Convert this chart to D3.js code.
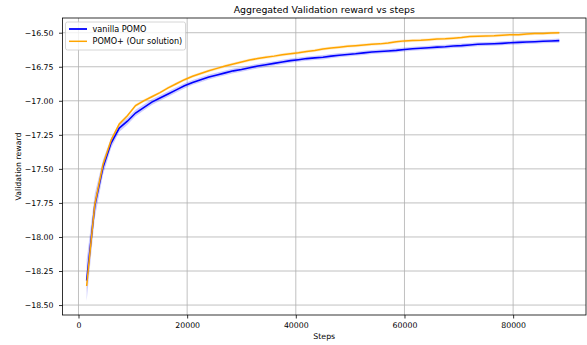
<!DOCTYPE html>
<html>
<head>
<meta charset="utf-8">
<script src="https://cdn.jsdelivr.net/npm/d3@7"></script>
<style>
  html, body { margin: 0; padding: 0; background: #fff; }
  svg { display: block; font-family: "DejaVu Sans", sans-serif; }
</style>
</head>
<body>
<div id="chart"></div>
<script>
// evaluation steps
const steps = [
  1500, 3000, 4500, 6000, 7500, 9000, 10500, 12000, 13500, 15000,
  16500, 18000, 19500, 21000, 22500, 24000, 25500, 27000, 28500, 30000,
  31500, 33000, 34500, 36000, 37500, 39000, 40500, 42000, 43500, 45000,
  46500, 48000, 49500, 51000, 52500, 54000, 55500, 57000, 58500, 60000,
  61500, 63000, 64500, 66000, 67500, 69000, 70500, 72000, 73500, 75000,
  76500, 78000, 79500, 81000, 82500, 84000, 85500, 87000, 88500
];

const vanillaMean = [
  -18.32, -17.77, -17.49, -17.31, -17.20, -17.15, -17.09, -17.05, -17.01, -16.98,
  -16.95, -16.92, -16.89, -16.865, -16.845, -16.825, -16.81, -16.795, -16.78, -16.77,
  -16.757, -16.745, -16.735, -16.725, -16.715, -16.705, -16.698, -16.69, -16.685, -16.68,
  -16.672, -16.665, -16.66, -16.655, -16.648, -16.642, -16.638, -16.634, -16.63, -16.623,
  -16.618, -16.614, -16.61, -16.606, -16.603, -16.598, -16.595, -16.59, -16.585, -16.583,
  -16.581, -16.578, -16.574, -16.571, -16.568, -16.566, -16.563, -16.561, -16.558
];

const vanillaSpread = [
  0.15, 0.09, 0.055, 0.038, 0.03, 0.026, 0.024, 0.022, 0.021, 0.02,
  0.02, 0.019, 0.019, 0.018, 0.018, 0.018, 0.018, 0.017, 0.017, 0.017,
  0.017, 0.017, 0.016, 0.016, 0.016, 0.016, 0.016, 0.016, 0.016, 0.016,
  0.016, 0.016, 0.015, 0.015, 0.015, 0.015, 0.015, 0.015, 0.015, 0.015,
  0.015, 0.015, 0.015, 0.015, 0.015, 0.015, 0.015, 0.015, 0.015, 0.015,
  0.015, 0.015, 0.015, 0.015, 0.015, 0.015, 0.015, 0.015, 0.015
];

const pomoPlusMean = [
  -18.36, -17.76, -17.47, -17.29, -17.17, -17.11, -17.035, -17.00, -16.97, -16.94,
  -16.905, -16.875, -16.845, -16.82, -16.80, -16.78, -16.762, -16.745, -16.73, -16.715,
  -16.70, -16.69, -16.68, -16.672, -16.662, -16.655, -16.648, -16.638, -16.63, -16.62,
  -16.612, -16.606, -16.60, -16.595, -16.59, -16.585, -16.582, -16.575, -16.566, -16.56,
  -16.558, -16.556, -16.552, -16.547, -16.545, -16.54, -16.535, -16.528, -16.526, -16.525,
  -16.523, -16.518, -16.515, -16.515, -16.51, -16.506, -16.505, -16.503, -16.501
];

const pomoPlusSpread = [
  0.05, 0.03, 0.02, 0.015, 0.013, 0.012, 0.012, 0.011, 0.011, 0.011,
  0.011, 0.011, 0.011, 0.011, 0.011, 0.011, 0.011, 0.011, 0.011, 0.011,
  0.011, 0.011, 0.011, 0.011, 0.011, 0.011, 0.011, 0.011, 0.011, 0.011,
  0.011, 0.011, 0.011, 0.011, 0.011, 0.011, 0.011, 0.011, 0.011, 0.011,
  0.011, 0.011, 0.011, 0.011, 0.011, 0.011, 0.011, 0.011, 0.011, 0.011,
  0.011, 0.011, 0.011, 0.011, 0.011, 0.011, 0.011, 0.011, 0.011
];

const xTicks = [0, 20000, 40000, 60000, 80000];
const yTicks = [-16.5, -16.75, -17.0, -17.25, -17.5, -17.75, -18.0, -18.25, -18.5];

const seriesNames = ['vanilla POMO', 'POMO+ (Our solution)'];

const width = 587;
const height = 345;
const plot = { left: 62.5, right: 586, top: 18, bottom: 315 };
const fontSize = 7.8;

const svg = d3.select('#chart')
  .append('svg')
  .attr('width', width)
  .attr('height', height);

const x = d3.scaleLinear()
  .domain([-2944, 93413])
  .range([plot.left, plot.right]);

const y = d3.scaleLinear()
  .domain([-18.573, -16.392])
  .range([plot.bottom, plot.top]);

const fmtY = v => d3.format('.2f')(v).replace('-', '\u2212');

// grid
svg.append('g')
  .selectAll('line')
  .data(xTicks)
  .enter()
  .append('line')
  .attr('x1', d => x(d)).attr('x2', d => x(d))
  .attr('y1', plot.top).attr('y2', plot.bottom)
  .attr('stroke', '#b0b0b0')
  .attr('stroke-width', 0.8);

svg.append('g')
  .selectAll('line')
  .data(yTicks)
  .enter()
  .append('line')
  .attr('x1', plot.left).attr('x2', plot.right)
  .attr('y1', d => y(d)).attr('y2', d => y(d))
  .attr('stroke', '#b0b0b0')
  .attr('stroke-width', 0.8);

// series
const vanilla = steps.map((s, i) => ({ s, m: vanillaMean[i], sd: vanillaSpread[i] }));
const pomoPlus = steps.map((s, i) => ({ s, m: pomoPlusMean[i], sd: pomoPlusSpread[i] }));

const area = d3.area()
  .x(d => x(d.s))
  .y0(d => y(d.m - d.sd))
  .y1(d => y(d.m + d.sd));

const line = d3.line()
  .x(d => x(d.s))
  .y(d => y(d.m));

svg.append('path')
  .datum(vanilla)
  .attr('d', area)
  .attr('fill', 'blue')
  .attr('fill-opacity', 0.2);

svg.append('path')
  .datum(pomoPlus)
  .attr('d', area)
  .attr('fill', 'orange')
  .attr('fill-opacity', 0.2);

svg.append('path')
  .datum(vanilla)
  .attr('d', line)
  .attr('fill', 'none')
  .attr('stroke', 'blue')
  .attr('stroke-width', 1.6);

svg.append('path')
  .datum(pomoPlus)
  .attr('d', line)
  .attr('fill', 'none')
  .attr('stroke', 'orange')
  .attr('stroke-width', 1.5);

// axes
const xAxis = svg.append('g')
  .attr('transform', `translate(0, ${plot.bottom})`)
  .call(d3.axisBottom(x).tickValues(xTicks).tickFormat(d3.format('d')).tickSizeOuter(0).tickSize(3.5).tickPadding(3.5));
const yAxis = svg.append('g')
  .attr('transform', `translate(${plot.left}, 0)`)
  .call(d3.axisLeft(y).tickValues(yTicks).tickFormat(fmtY).tickSizeOuter(0).tickSize(3.5).tickPadding(5.5));

[xAxis, yAxis].forEach(a => {
  a.select('.domain').remove();
  a.selectAll('text').attr('font-size', fontSize).attr('fill', '#000').style('font-family', '"DejaVu Sans", sans-serif');
  a.selectAll('line').attr('stroke', '#000').attr('stroke-width', 0.8);
});

// frame
svg.append('rect')
  .attr('x', plot.left).attr('y', plot.top)
  .attr('width', plot.right - plot.left)
  .attr('height', plot.bottom - plot.top)
  .attr('fill', 'none')
  .attr('stroke', '#000')
  .attr('stroke-width', 0.8);

// labels
svg.append('text')
  .attr('x', (plot.left + plot.right) / 2)
  .attr('y', 13)
  .attr('text-anchor', 'middle')
  .attr('font-size', 9.4)
  .text('Aggregated Validation reward vs steps');

svg.append('text')
  .attr('x', (plot.left + plot.right) / 2)
  .attr('y', 339)
  .attr('text-anchor', 'middle')
  .attr('font-size', fontSize)
  .text('Steps');

svg.append('text')
  .attr('transform', `translate(21, ${(plot.top + plot.bottom) / 2}) rotate(-90)`)
  .attr('text-anchor', 'middle')
  .attr('font-size', fontSize)
  .text('Validation reward');

// legend
const legend = svg.append('g').attr('transform', 'translate(65.5, 22)');
legend.append('rect')
  .attr('width', 120)
  .attr('height', 28)
  .attr('rx', 2)
  .attr('fill', '#fff')
  .attr('fill-opacity', 0.8)
  .attr('stroke', '#cccccc')
  .attr('stroke-width', 0.8);

const legendColors = ['blue', 'orange'];
const legendWidths = [1.8, 1.5];
seriesNames.forEach((name, i) => {
  const ly = 7 + i * 12.3;
  legend.append('line')
    .attr('x1', 3.5).attr('x2', 21.5)
    .attr('y1', ly).attr('y2', ly)
    .attr('stroke', legendColors[i])
    .attr('stroke-width', legendWidths[i]);
  legend.append('text')
    .attr('x', 27)
    .attr('y', ly + 2.9)
    .attr('font-size', 8.1)
    .text(name);
});
</script>
</body>
</html>
